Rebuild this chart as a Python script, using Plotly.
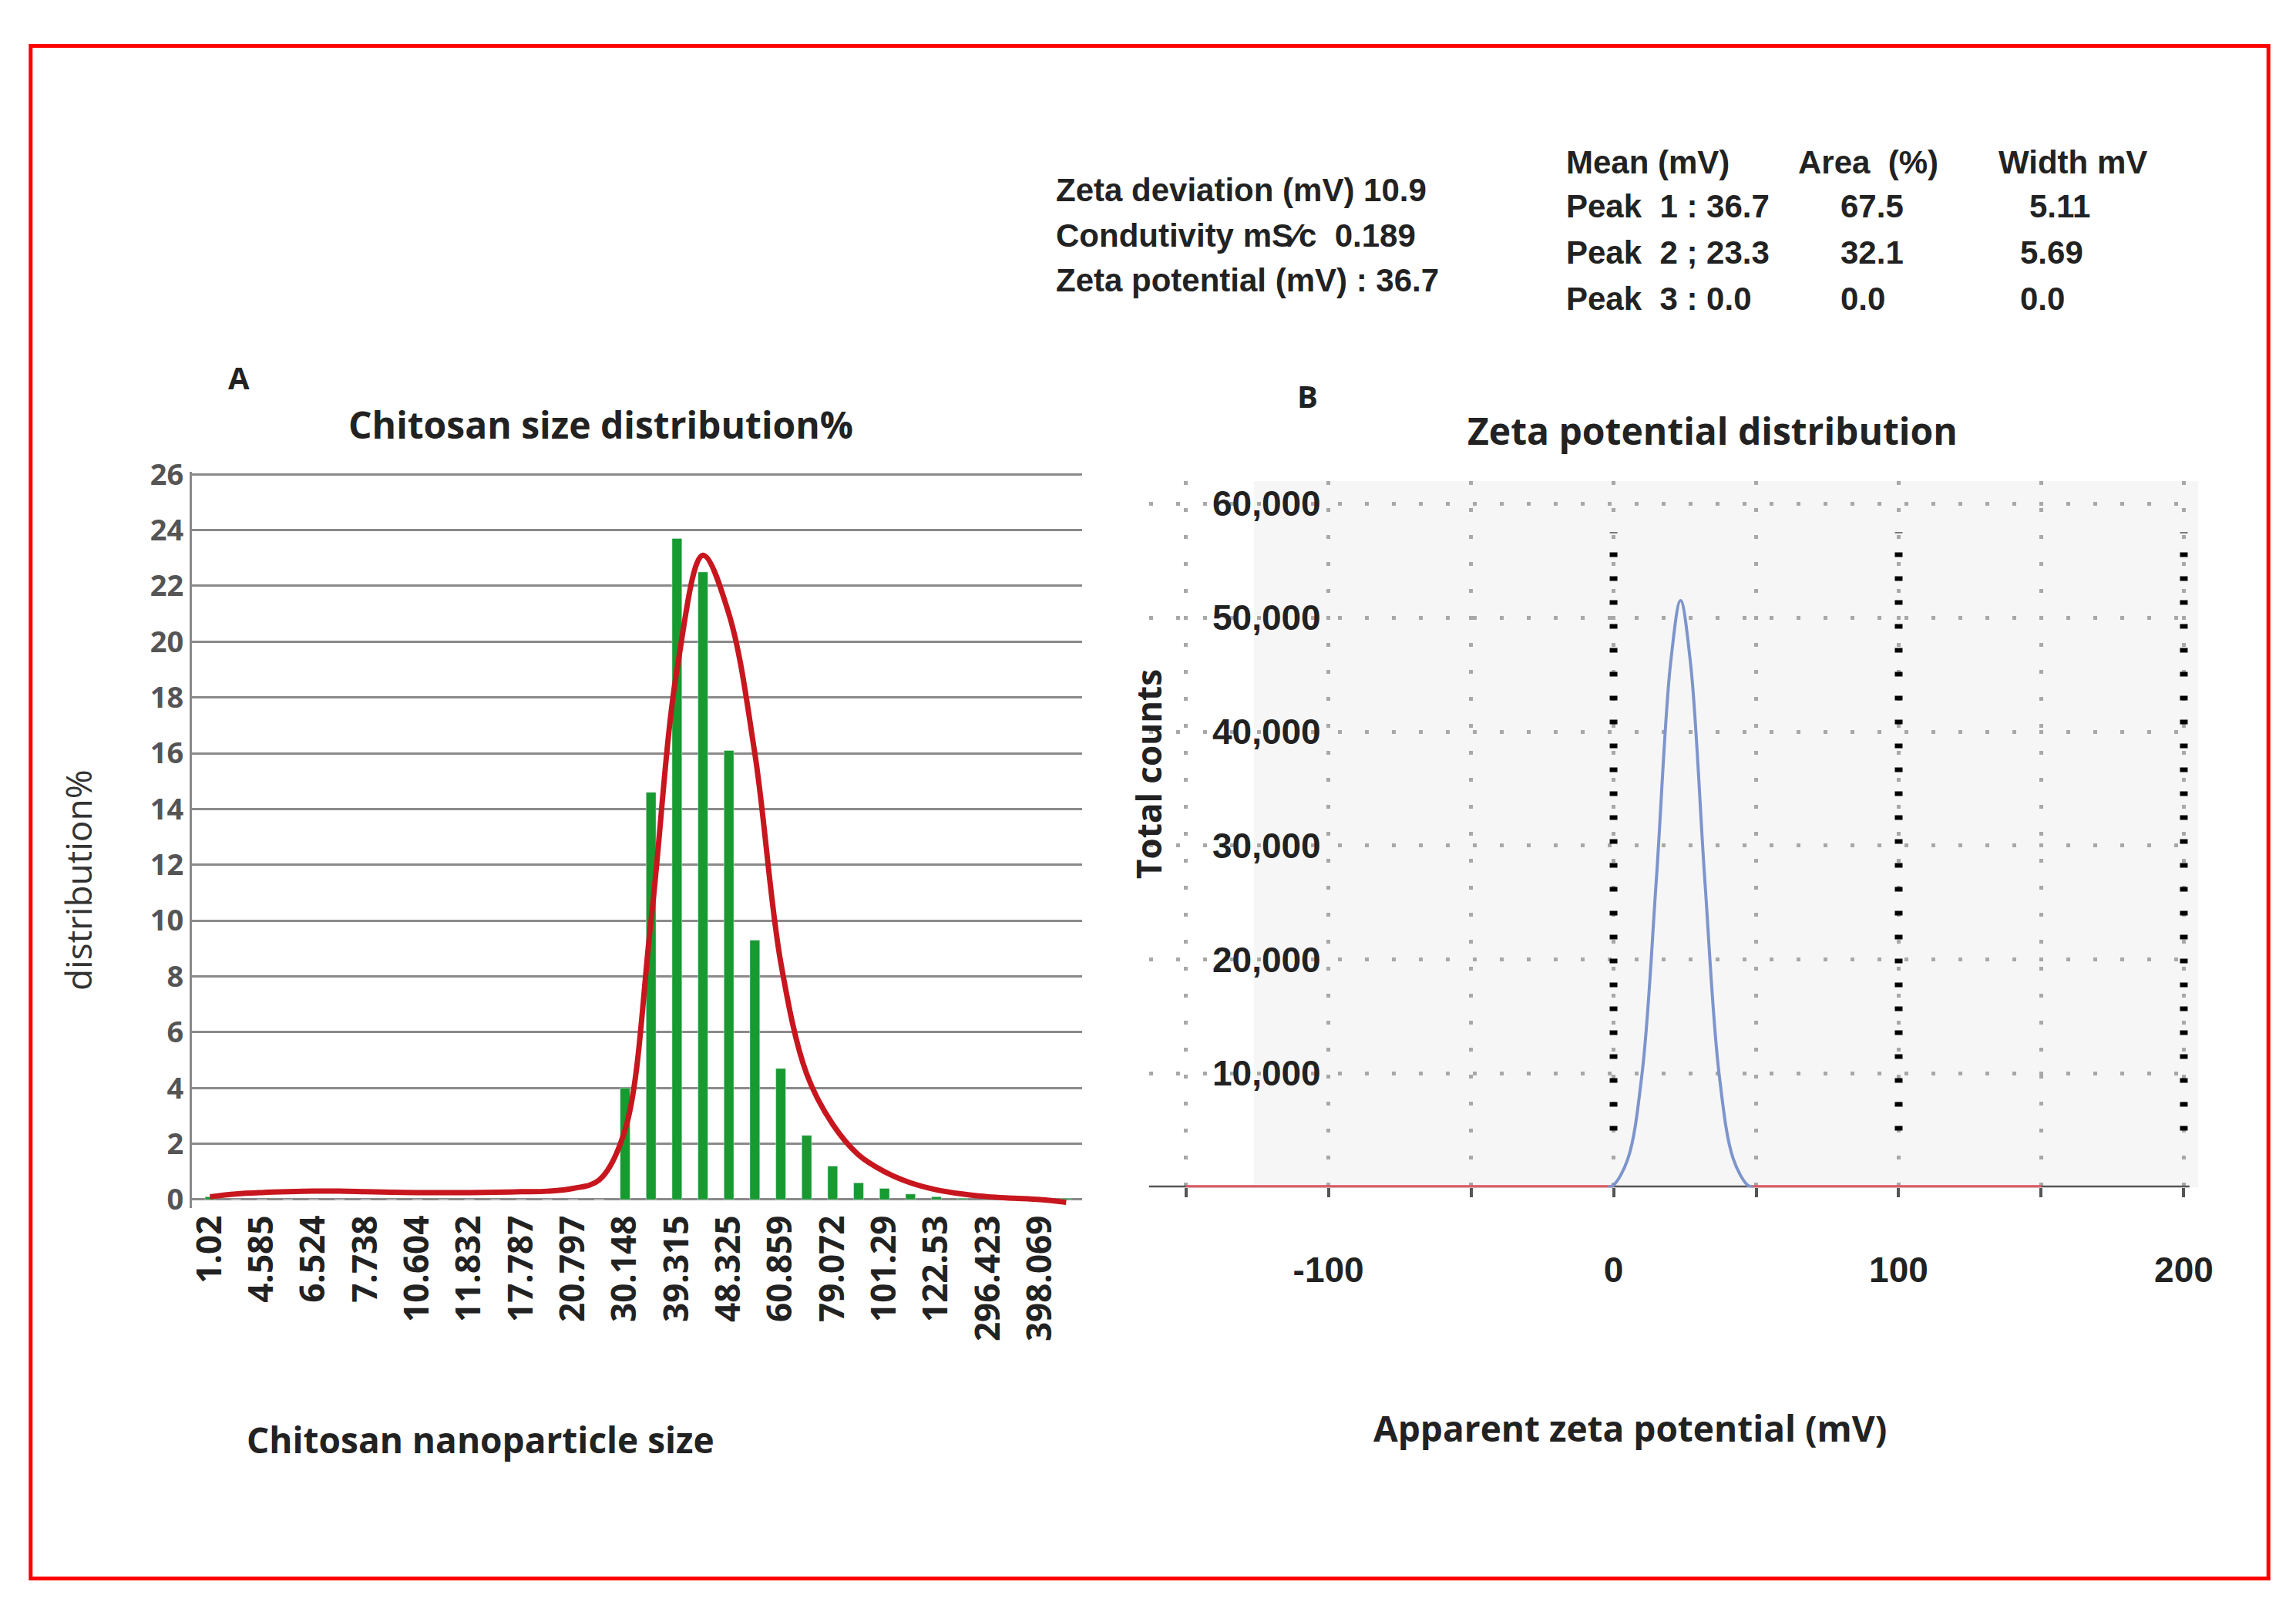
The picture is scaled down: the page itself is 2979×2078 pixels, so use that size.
import plotly.graph_objects as go

# -- Panel A : Chitosan size distribution --
size_labels = ["1.02", "4.585", "6.524", "7.738", "10.604", "11.832", "17.787", "20.797",
               "30.148", "39.315", "48.325", "60.859", "79.072", "101.29", "122.53", "296.423", "398.069"]
size_bars = [0.1, 0, 0, 0, 0, 0, 0, 0, 0, 0, 0, 0, 0, 0, 0, 0,
             4.0, 14.6, 23.7, 22.5, 16.1, 9.3, 4.7, 2.3, 1.2, 0.6, 0.4, 0.2, 0.1, 0.05, 0.05, 0.05, 0.05, 0.05]
size_curve = [0.1, 0.2, 0.25, 0.28, 0.3, 0.3, 0.28, 0.26, 0.25, 0.25, 0.25, 0.26, 0.28, 0.3, 0.4, 0.7,
              2.5, 10.0, 19.0, 23.1, 21.0, 16.0, 8.5, 4.5, 2.7, 1.6, 1.0, 0.6, 0.35, 0.2, 0.1, 0.05, 0.0, -0.1]
size_pos = list(range(len(size_bars)))

# -- Panel B : Zeta potential distribution --
zeta_x = [-2, 0, 5, 10, 15, 20, 23.5, 27, 32, 37, 42, 47, 49]
zeta_counts = [0, 200, 2500, 10000, 27000, 46000, 51500, 46000, 27000, 10000, 2500, 200, 0]
zeta_yticks = [10000, 20000, 30000, 40000, 50000, 60000]
ref_lines = [0, 100, 200]
red_segments = [[-150, 0], [48, 150]]

info_lines = ["Zeta deviation (mV) 10.9", "Condutivity mS\u2044c  0.189", "Zeta potential (mV) : 36.7"]
table_header = ["Mean (mV)", "Area  (%)", "Width mV"]
table_rows = [["Peak  1 : 36.7", "67.5", "5.11"],
              ["Peak  2 ; 23.3", "32.1", "5.69"],
              ["Peak  3 : 0.0", "0.0", "0.0"]]

W, H = 2979, 2078
fig = go.Figure()

fig.add_trace(go.Bar(x=size_pos, y=size_bars, width=0.38, marker_color="#179a2f",
                     xaxis="x", yaxis="y", showlegend=False))
fig.add_trace(go.Scatter(x=size_pos, y=size_curve, mode="lines", line=dict(color="#c8161e", width=7, shape="spline"),
                         xaxis="x", yaxis="y", showlegend=False))

for rx in ref_lines:
    fig.add_trace(go.Scatter(x=[rx, rx], y=[5000, 57500], mode="lines",
                             line=dict(color="black", width=10, dash="6px,25px"),
                             xaxis="x2", yaxis="y2", showlegend=False))
fig.add_trace(go.Scatter(x=[-163, 202], y=[0, 0], mode="lines", line=dict(color="#555555", width=5),
                         xaxis="x2", yaxis="y2", showlegend=False))
for seg in red_segments:
    fig.add_trace(go.Scatter(x=seg, y=[0, 0], mode="lines", line=dict(color="#e05a66", width=6),
                             xaxis="x2", yaxis="y2", showlegend=False))
fig.add_trace(go.Scatter(x=zeta_x, y=zeta_counts, mode="lines", line=dict(color="#7d95cc", width=4, shape="spline"),
                         xaxis="x2", yaxis="y2", showlegend=False))

fig.update_layout(
    width=W, height=H, margin=dict(l=0, r=0, t=0, b=0),
    paper_bgcolor="white", plot_bgcolor="white",
    xaxis=dict(domain=[0.0786, 0.470], range=[-0.7, 33.6],
               tickvals=size_pos[::2], ticktext=size_labels, tickangle=-90,
               tickfont=dict(family="Open Sans", size=44, color="#222222", weight="bold"),
               showgrid=False, zeroline=False, showline=False, ticks=""),
    yaxis=dict(domain=[0.248, 0.716], range=[-0.3, 26.1], tickvals=list(range(0, 27, 2)),
               tickfont=dict(family="Open Sans", size=38, color="#555555", weight="bold"),
               gridcolor="#8a8a8a", gridwidth=3, zeroline=False,
               showline=True, linecolor="#8a8a8a", linewidth=3),
    xaxis2=dict(domain=[0.4995, 0.961], range=[-163, 205], anchor="y2",
                tickvals=[-150, -100, -50, 0, 50, 100, 150, 200], ticktext=["", "-100", "", "0", "", "100", "", "200"],
                ticks="outside", ticklen=12, tickwidth=4, tickcolor="#555555", ticklabelstandoff=55,
                tickfont=dict(family="Liberation Sans", size=46, color="#222222", weight="bold"),
                showgrid=True, griddash="5px,30px", gridcolor="#a8a8a8", gridwidth=5, zeroline=False, showline=False),
    yaxis2=dict(domain=[0.261, 0.710], range=[0, 62000], anchor="x2", tickvals=[0] + zeta_yticks,
                showticklabels=False, showgrid=True, griddash="5px,30px", gridcolor="#a8a8a8", gridwidth=5,
                zeroline=False, showline=False),
    shapes=[dict(type="rect", xref="paper", yref="paper", x0=23 / W, x1=2955 / W, y0=1 - 2052 / H, y1=1 - 28 / H,
                 line=dict(color="#ff0000", width=5)),
            dict(type="rect", xref="x2 domain", yref="y2 domain", x0=0.1, x1=1.0, y0=0.0, y1=1.0,
                 fillcolor="#f6f6f6", line_width=0, layer="below")],
)

ann = []
def add(x, y, t, size, xanchor="left", angle=0, bold=True, family="Open Sans", color="#222222"):
    ann.append(dict(x=x / W, y=1 - y / H, xref="paper", yref="paper", text=t, showarrow=False,
                    xanchor=xanchor, yanchor="middle", textangle=angle,
                    font=dict(family=family, size=size, color=color, weight="bold" if bold else "normal")))

add(280, 466, "A", 40)
add(770, 528, "Chitosan size distribution%", 48, "center")
add(85, 1130, "distribution%", 46, "center", -90, bold=False, color="#333333")
add(612, 1868, "Chitosan nanoparticle size", 46, "center")
add(1680, 490, "B", 40)
add(2227, 536, "Zeta potential distribution", 48, "center")
add(1488, 990, "Total counts", 44, "center", -90)
add(2119, 1853, "Apparent zeta potential (mV)", 46, "center")

narrow = "Liberation Sans Narrow, Arial Narrow, Liberation Sans"
for i, line in enumerate(info_lines):
    add(1364, 218 + i * 60, line, 42, family=narrow)
hx = [2033, 2337, 2599]
for j, h in enumerate(table_header):
    add(hx[j], 182, h, 42, family=narrow)
rx = [2033, 2392, 2640]
for i, row in enumerate(table_rows):
    for j, cell in enumerate(row):
        add(rx[j] - (12 if (i > 0 and j == 2) else 0), 240 + i * 61, cell, 42, family=narrow)

for v in zeta_yticks:
    ann.append(dict(x=-102, y=v, xref="x2", yref="y2", text=f"{v:,}", showarrow=False, xanchor="right",
                    yanchor="middle", font=dict(family="Liberation Sans", size=46, color="#222222", weight="bold")))

fig.update_layout(annotations=ann)
fig.write_html("out.html")
